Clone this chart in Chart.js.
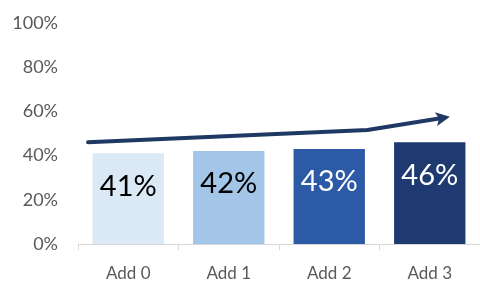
<!DOCTYPE html>
<html>
<head>
<meta charset="utf-8">
<script src="https://cdn.jsdelivr.net/npm/chart.js@4/dist/chart.umd.min.js"></script>
<style>
html,body{margin:0;padding:0;background:#fff;}
#wrap{width:480px;height:282px;position:relative;}
</style>
</head>
<body>
<div id="wrap"><canvas id="c"></canvas></div>
<script>
const categories = ["Add 0", "Add 1", "Add 2", "Add 3"];
const values = [41, 42, 43, 46];
const barColors = ["#DAE9F5", "#A2C5E8", "#2C5AA6", "#1F3A70"];
const labelColors = ["#000000", "#000000", "#FFFFFF", "#FFFFFF"];
const yTicks = [0, 20, 40, 60, 80, 100];
// trend arrow path in (category index, percent) units
const arrowX = [-0.4, 2.38, 3.2];
const arrowY = [46, 51.5, 57.5];

const valueLabelPlugin = {
  id: 'valueLabels',
  afterDatasetsDraw(chart) {
    const ctx = chart.ctx;
    const meta = chart.getDatasetMeta(0);
    ctx.save();
    ctx.font = '29px Lato';
    ctx.textAlign = 'center';
    ctx.textBaseline = 'middle';
    meta.data.forEach((bar, i) => {
      ctx.fillStyle = labelColors[i];
      ctx.fillText(values[i] + '%', bar.x, bar.y + 33);
    });
    ctx.restore();
  }
};

const arrowPlugin = {
  id: 'trendArrow',
  afterDatasetsDraw(chart) {
    const ctx = chart.ctx;
    const xs = chart.scales.x, ys = chart.scales.y;
    const x0 = xs.getPixelForValue(0), x1 = xs.getPixelForValue(1);
    const pts = arrowX.map((v, i) => [x0 + (x1 - x0) * v, ys.getPixelForValue(arrowY[i])]);
    ctx.save();
    ctx.strokeStyle = '#1F3864';
    ctx.fillStyle = '#1F3864';
    ctx.lineWidth = 4;
    ctx.lineCap = 'round';
    ctx.lineJoin = 'round';
    const n = pts.length;
    const [tx, ty] = pts[n - 1];
    const [px, py] = pts[n - 2];
    const ang = Math.atan2(ty - py, tx - px);
    const headLen = 14, headW = 7;
    const bx = tx - headLen * Math.cos(ang), by = ty - headLen * Math.sin(ang);
    ctx.beginPath();
    ctx.moveTo(pts[0][0], pts[0][1]);
    for (let i = 1; i < n - 1; i++) ctx.lineTo(pts[i][0], pts[i][1]);
    ctx.lineTo(bx + 3 * Math.cos(ang), by + 3 * Math.sin(ang));
    ctx.stroke();
    ctx.beginPath();
    ctx.moveTo(tx, ty);
    ctx.lineTo(bx - headW * Math.sin(ang), by + headW * Math.cos(ang));
    ctx.lineTo(bx + 3 * Math.cos(ang), by + 3 * Math.sin(ang));
    ctx.lineTo(bx + headW * Math.sin(ang), by - headW * Math.cos(ang));
    ctx.closePath();
    ctx.fill();
    ctx.restore();
  }
};

new Chart(document.getElementById('c'), {
  type: 'bar',
  data: {
    labels: categories,
    datasets: [{
      data: values,
      backgroundColor: barColors,
      borderWidth: 0,
      barPercentage: 0.71,
      categoryPercentage: 1.0
    }]
  },
  options: {
    responsive: true,
    maintainAspectRatio: false,
    animation: false,
    layout: { padding: { top: 6, right: 0, left: 0, bottom: 0 } },
    plugins: { legend: { display: false }, tooltip: { enabled: false } },
    scales: {
      x: {
        offset: true,
        grid: { display: true, drawOnChartArea: false, offset: true, color: '#D9D9D9', tickLength: 6 },
        border: { display: true, color: '#D9D9D9', width: 1 },
        ticks: { color: '#595959', font: { family: 'Lato', size: 17 }, padding: 13 },
        afterFit(scale) { scale.height = 38; }
      },
      y: {
        min: 0, max: 100,
        grid: { display: false },
        border: { display: false },
        afterBuildTicks(scale) { scale.ticks = yTicks.map(v => ({ value: v })); },
        ticks: {
          color: '#595959', font: { family: 'Lato', size: 18 }, padding: 12,
          callback: v => v + '%'
        },
        afterFit(scale) { scale.width = 78; }
      }
    }
  },
  plugins: [valueLabelPlugin, arrowPlugin]
});
</script>
</body>
</html>
